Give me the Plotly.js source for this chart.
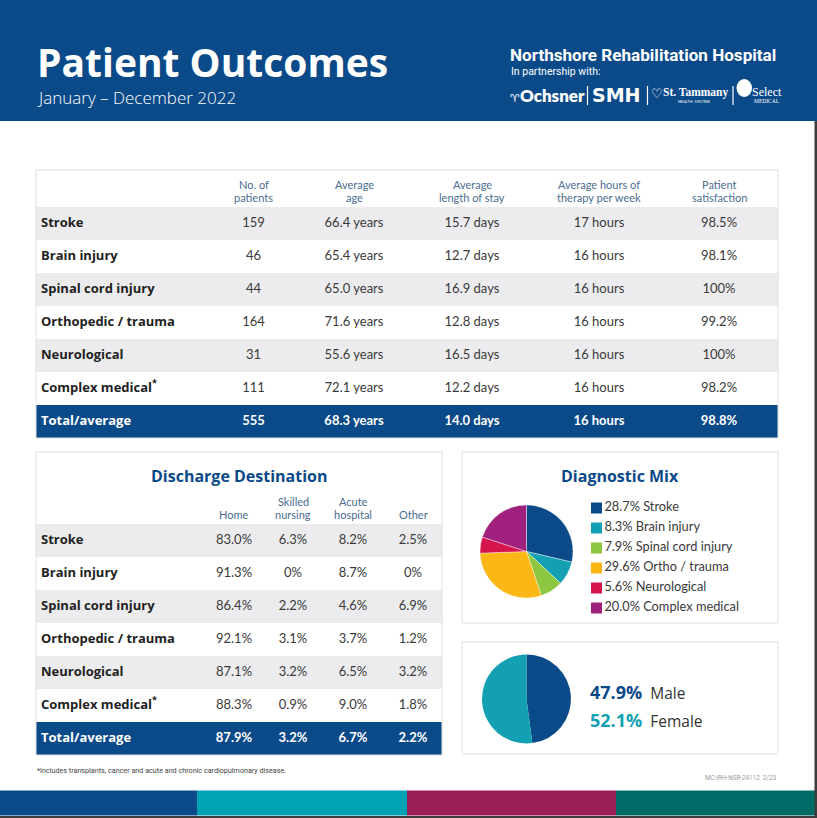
<!DOCTYPE html>
<html><head><meta charset="utf-8">
<script src="https://cdn.plot.ly/plotly-3.0.1.min.js"></script>
<style>html,body{margin:0;padding:0;background:#fff;overflow:hidden}#chart{width:817px;height:818px}</style>
</head><body><div id="chart"></div>
<script>
// ---------------- DATA ----------------
const outcomeCategories = ['Stroke','Brain injury','Spinal cord injury','Orthopedic / trauma','Neurological','Complex medical*'];
const outcomeColumns = ['No. of<br>patients','Average<br>age','Average<br>length of stay','Average hours of<br>therapy per week','Patient<br>satisfaction'];
const patientCounts = [159,46,44,164,31,111];
const averageAge = [66.4,65.4,65.0,71.6,55.6,72.1];
const lengthOfStay = [15.7,12.7,16.9,12.8,16.5,12.2];
const therapyHours = [17,16,16,16,16,16];
const satisfaction = [98.5,98.1,100,99.2,100,98.2];
const outcomeTotals = [555,68.3,14.0,16,98.8];
const totalLabel = 'Total/average';

const dischargeColumns = ['Home','Skilled<br>nursing','Acute<br>hospital','Other'];
const dischargeHome = [83.0,91.3,86.4,92.1,87.1,88.3];
const dischargeSkilled = [6.3,0,2.2,3.1,3.2,0.9];
const dischargeAcute = [8.2,8.7,4.6,3.7,6.5,9.0];
const dischargeOther = [2.5,0,6.9,1.2,3.2,1.8];
const dischargeTotals = [87.9,3.2,6.7,2.2];

const mixLabels = ['Stroke','Brain injury','Spinal cord injury','Ortho / trauma','Neurological','Complex medical'];
const mixShares = [28.7,8.3,7.9,29.6,5.6,20.0];
const genderLabels = ['Male','Female'];
const genderShares = [47.9,52.1];

const footnoteText = '*Includes transplants, cancer and acute and chronic cardiopulmonary disease.';
const docCode = 'MC-IRH-NSR-24112  2/23';

// ---------------- STYLE / GEOMETRY ----------------
const W = 817, H = 818;
const px = x => x / W, py = y => 1 - y / H;
const NAVY = '#0b4a89', TEAL = '#13a0b2', GREEN = '#8dc63f', GOLD = '#fbb716', RED = '#d6154f', PURPLE = '#a0207e';
const GRAY_ROW = '#ececee', BOX = '#e0e0e0', TXT = '#3a3a3a', LBL = '#222222', HEAD = '#4a6d91';
const mixColors = [NAVY, TEAL, GREEN, GOLD, RED, PURPLE];
const genderColors = [NAVY, TEAL];
const footerColors = [NAVY, '#00a2b3', '#9b1e56', '#006c68'];
const footerStops = [0, 197, 407, 616, 817];

const T1 = {left: 36, right: 778, boxTop: 170, bodyTop: 207, rowH: 33, cols: [169, 97, 104, 132, 122, 118], labelX: 41, headBottomLine: 197};
const T2 = {left: 36, right: 442, boxTop: 452, bodyTop: 524, rowH: 33, cols: [168, 60, 58, 62, 58], labelX: 41, headBottomLine: 514};
const LINE_STEP = 13;
const mixPie = {cx: 526.5, cy: 551.5, r: 46.5};
const genderPie = {cx: 526.5, cy: 699, r: 44.5};
const legendX = 596.5, legendTop = 508, legendStep = 20;

// ---------------- HELPERS ----------------
const f1 = v => v.toFixed(1);
const pct = v => v === 100 ? '100%' : (v === 0 ? '0%' : f1(v) + '%');
const bold = s => '<b>' + s + '</b>';
const lbl = s => bold(s.replace('*', '<sup>*</sup>'));
const colCenters = t => { let acc = t.left; return t.cols.map(w => { const c = acc + w / 2; acc += w; return c; }); };

const shapes = [];
const annotations = [];
const traces = [];
function rect(x0, y0, x1, y1, fill, line, layer) {
  shapes.push({type: 'rect', xref: 'x', yref: 'y', x0, y0, x1, y1,
    fillcolor: fill || 'rgba(0,0,0,0)', line: {color: line || 'rgba(0,0,0,0)', width: line ? 1 : 0}, layer: layer || 'below'});
}
function vline(x, y0, y1, color, width) {
  shapes.push({type: 'line', xref: 'x', yref: 'y', x0: x, x1: x, y0, y1, line: {color, width: width || 1}, layer: 'above'});
}
function ann(text, x, y, o) {
  o = o || {};
  annotations.push({text, x, y, xref: 'x', yref: 'y', showarrow: false, xanchor: o.xanchor || 'left', yanchor: o.yanchor || 'middle',
    align: o.align || 'left', borderpad: 0,
    font: {family: o.family || 'Open Sans', size: o.size || 12, color: o.color || TXT, weight: o.weight || 400}});
}

// draw a table: row stripes + one text trace per column, rows positioned through the y axis
function drawTable(t, columns, headers) {
  const nRows = columns[0].length;           // includes total row
  const rowY = i => t.bodyTop + t.rowH * (i + 0.5);
  for (let i = 0; i < nRows; i++) {
    const last = i === nRows - 1;
    const fill = last ? NAVY : (i % 2 === 0 ? GRAY_ROW : '#ffffff');
    rect(t.left, t.bodyTop + i * t.rowH, t.right, t.bodyTop + (i + 1) * t.rowH, fill);
  }
  const centers = colCenters(t);
  columns.forEach((col, j) => {
    const isLabel = j === 0;
    traces.push({
      type: 'scatter', mode: 'text', xaxis: 'x', yaxis: 'y', hoverinfo: 'skip', showlegend: false, cliponaxis: false,
      x: col.map(() => isLabel ? t.labelX : centers[j]),
      y: col.map((_, i) => rowY(i)),
      text: col,
      textposition: isLabel ? 'middle right' : 'middle center',
      textfont: {family: isLabel ? 'Open Sans' : 'Lato', size: 13,
                 color: col.map((_, i) => i === nRows - 1 ? '#ffffff' : (isLabel ? LBL : TXT))}
    });
  });
  centers.slice(1).forEach((cx, i) => {
    const lines = headers[i].split('<br>');
    lines.forEach((ln, k) => ann(ln, cx, t.headBottomLine - (lines.length - 1 - k) * LINE_STEP,
      {xanchor: 'center', family: 'Lato', size: 11, color: HEAD}));
  });
  rect(t.left, t.boxTop, t.right, t.bodyTop + nRows * t.rowH, null, BOX, 'above');
}

// ---------------- HEADER BAND ----------------
rect(0, 0, W, 121, NAVY);
ann('Patient Outcomes', 36, 61, {size: 39, weight: 700, color: '#fff'});
ann('January – December 2022', 36, 97, {size: 17, weight: 300, color: '#fff'});
ann('Northshore Rehabilitation Hospital', 509, 55, {family: 'Roboto', size: 17.1, weight: 700, color: '#fff'});
ann('In partnership with:', 510, 71, {family: 'Roboto', size: 10.5, color: '#fff'});
ann('<span style="font-family:DejaVu Sans;font-size:11px">♈</span>Ochsner', 509, 95, {family: 'Lato', size: 17, weight: 800, color: '#fff'});
vline(587.5, 86, 105, '#fff', 1.2);
ann('SMH', 591, 95, {family: 'DejaVu Sans', size: 19, weight: 700, color: '#fff'});
vline(647.5, 86, 105, '#fff', 1.2);
ann('♡', 650, 93, {family: 'DejaVu Sans', size: 13, color: '#fff'});
ann('St. Tammany', 662, 92, {family: 'Liberation Serif', size: 11.5, weight: 700, color: '#fff'});
ann('HEALTH  SYSTEM', 677, 101, {family: 'Roboto', size: 4, color: '#fff'});
vline(733, 86, 105, '#fff', 1.2);
shapes.push({type: 'circle', xref: 'x', yref: 'y', x0: 736.5, x1: 752, y0: 79, y1: 97, fillcolor: '#fff', line: {width: 0}, layer: 'above'});
ann('Select', 751, 92, {family: 'Liberation Serif', size: 12, color: '#fff'});
ann('MEDICAL', 753, 101, {family: 'Liberation Serif', size: 5.5, color: '#fff'});

// ---------------- MAIN OUTCOME TABLE ----------------
drawTable(T1, [
  outcomeCategories.map(lbl).concat(bold(totalLabel)),
  patientCounts.map(String).concat(bold(String(outcomeTotals[0]))),
  averageAge.map(v => f1(v) + ' years').concat(bold(f1(outcomeTotals[1]) + ' years')),
  lengthOfStay.map(v => f1(v) + ' days').concat(bold(f1(outcomeTotals[2]) + ' days')),
  therapyHours.map(v => v + ' hours').concat(bold(outcomeTotals[3] + ' hours')),
  satisfaction.map(pct).concat(bold(pct(outcomeTotals[4])))
], outcomeColumns);

// ---------------- DISCHARGE TABLE ----------------
drawTable(T2, [
  outcomeCategories.map(lbl).concat(bold(totalLabel)),
  dischargeHome.map(pct).concat(bold(pct(dischargeTotals[0]))),
  dischargeSkilled.map(pct).concat(bold(pct(dischargeTotals[1]))),
  dischargeAcute.map(pct).concat(bold(pct(dischargeTotals[2]))),
  dischargeOther.map(pct).concat(bold(pct(dischargeTotals[3])))
], dischargeColumns);
ann('Discharge Destination', (T2.left + T2.right) / 2, 476, {xanchor: 'center', size: 16, weight: 700, color: NAVY});

// ---------------- DIAGNOSTIC MIX ----------------
rect(462, 452, 778, 623, null, BOX, 'above');
ann('Diagnostic Mix', 620, 476, {xanchor: 'center', size: 16, weight: 700, color: NAVY});
traces.push({
  type: 'pie', labels: mixLabels, values: mixShares, sort: false, direction: 'clockwise', rotation: 0,
  textinfo: 'none', hoverinfo: 'label+value', showlegend: false,
  marker: {colors: mixColors, line: {color: '#ffffff', width: 0.4}},
  domain: {x: [px(mixPie.cx - mixPie.r), px(mixPie.cx + mixPie.r)], y: [py(mixPie.cy + mixPie.r), py(mixPie.cy - mixPie.r)]}
});
traces.push({
  type: 'scatter', mode: 'markers+text', xaxis: 'x', yaxis: 'y', hoverinfo: 'skip', showlegend: false, cliponaxis: false,
  x: mixLabels.map(() => legendX), y: mixLabels.map((_, i) => legendTop + i * legendStep),
  text: mixLabels.map((l, i) => f1(mixShares[i]) + '% ' + l), textposition: 'middle right',
  textfont: {family: 'Lato', size: 12.8, color: TXT},
  marker: {symbol: 'square', size: 11, color: mixColors, line: {width: 0}}
});

// ---------------- GENDER ----------------
rect(462, 642, 778, 754, null, BOX, 'above');
traces.push({
  type: 'pie', labels: genderLabels, values: genderShares, sort: false, direction: 'clockwise', rotation: 0,
  textinfo: 'none', hoverinfo: 'label+value', showlegend: false,
  marker: {colors: genderColors, line: {width: 0}},
  domain: {x: [px(genderPie.cx - genderPie.r), px(genderPie.cx + genderPie.r)], y: [py(genderPie.cy + genderPie.r), py(genderPie.cy - genderPie.r)]}
});
genderLabels.forEach((g, i) => {
  ann('<span style="color:' + genderColors[i] + ';font-size:18px;font-weight:700">' + f1(genderShares[i]) + '%</span>  ' + g,
      589, 692 + i * 28, {size: 15.5, color: '#333'});
});

// ---------------- FOOTER ----------------
ann(footnoteText, 36, 770, {family: 'Roboto', size: 7.2, color: '#444'});
ann(docCode, 778, 778, {xanchor: 'right', family: 'Roboto', size: 6.3, color: '#999'});
footerColors.forEach((c, i) => rect(footerStops[i], 790.5, footerStops[i + 1], 815.5, c));
rect(814.5, 121, W, H, '#3c3c3c');
rect(0, 816, W, H, '#3c3c3c');

const layout = {
  width: W, height: H, margin: {l: 0, r: 0, t: 0, b: 0}, paper_bgcolor: '#ffffff', plot_bgcolor: 'rgba(0,0,0,0)',
  showlegend: false,
  xaxis: {range: [0, W], visible: false, fixedrange: true},
  yaxis: {range: [H, 0], visible: false, fixedrange: true},
  shapes, annotations
};
Plotly.newPlot('chart', traces, layout, {displayModeBar: false, staticPlot: true});
</script></body></html>
